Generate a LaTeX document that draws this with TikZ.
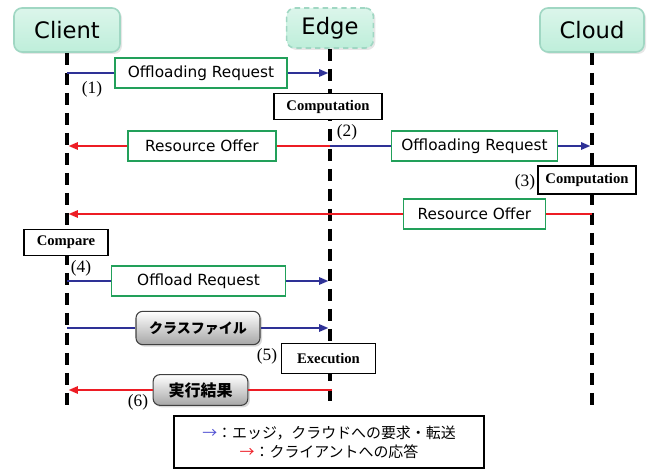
\documentclass[tikz,border=0pt]{standalone}
\usepackage{fontspec}
\setmainfont{Liberation Serif}
\setsansfont{DejaVu Sans}
\newfontfamily\jpfont{Noto Sans CJK JP}
\usetikzlibrary{arrows.meta,shadows}

\definecolor{reqblue}{RGB}{46,49,150}
\definecolor{legblue}{RGB}{80,80,210}
\definecolor{resred}{RGB}{237,28,36}
\definecolor{boxgreen}{RGB}{34,160,90}
\definecolor{mintfill}{RGB}{190,238,218}
\definecolor{mintline}{RGB}{160,215,195}

\tikzset{
  host/.style={rounded corners=6pt, draw=mintline, line width=1.2pt,
    top color=mintfill!55, bottom color=mintfill,
    font=\sffamily\fontsize{17}{17}\selectfont,
    drop shadow={opacity=0.2, shadow xshift=1.5pt, shadow yshift=-1.5pt}},
  lifeline/.style={line width=2.7pt, dash pattern=on 9.5pt off 5.5pt},
  msg/.style={draw=boxgreen, line width=0.9pt, fill=white, inner sep=0pt,
    minimum height=22.5pt, font=\sffamily\fontsize{11.5}{12}\selectfont},
  proc/.style={draw, line width=0.8pt, fill=white, inner sep=0pt,
    font=\bfseries\fontsize{11}{11}\selectfont},
  file/.style={draw=black!75, line width=0.8pt, rounded corners=5pt, inner sep=0pt,
    top color=white, bottom color=black!35,
    drop shadow={opacity=0.3, shadow xshift=1.5pt, shadow yshift=-1.5pt}},
  reqline/.style={reqblue, line width=1.5pt},
  resline/.style={resred, line width=1.5pt},
  req/.style={reqline, -{Triangle[length=7pt,width=5.5pt]}, shorten >=1.2pt},
  res/.style={resline, -{Triangle[length=7pt,width=5.5pt]}, shorten >=1.2pt},
  num/.style={font=\fontsize{13}{13}\selectfont, inner sep=0pt}
}

\begin{document}
\begin{tikzpicture}[x=0.75pt,y=-0.75pt]
  \useasboundingbox (0,0) rectangle (653,470);

  % hosts and their lifelines
  \node[host, minimum width=79.5pt, minimum height=33pt] (client) at (67,30) {Client};
  \node[host, dash pattern=on 4pt off 3pt, minimum width=65pt, minimum height=30pt] (edge) at (330,28) {Edge};
  \node[host, minimum width=78pt, minimum height=33pt] (cloud) at (592,30) {Cloud};
  \coordinate (client end) at (67,405);
  \coordinate (edge end) at (330,405);
  \coordinate (cloud end) at (592,405);
  \draw[lifeline] (client.south) -- (client end);
  \draw[lifeline] (edge.south) -- (edge end);
  \draw[lifeline] (cloud.south) -- (cloud end);

  % (1) client -> edge
  \coordinate (c1) at (67,73);
  \coordinate (e1) at (330,73);
  \node[msg, minimum width=129pt] (m1) at (201,73) {Offloading Request};
  \draw[reqline] (c1) -- (m1.west);
  \draw[req] (m1.east) -- (e1);
  \node[num] (n1) at (92,89) {(1)};

  \node[proc, minimum width=81pt, minimum height=20pt] (comp1) at (328,106.5) {Computation};

  % (2) edge -> client, edge -> cloud
  \coordinate (c2) at (67,146);
  \coordinate (e2) at (330,146);
  \coordinate (k2) at (592,146);
  \node[msg, minimum width=111pt] (m2) at (202,146) {Resource Offer};
  \draw[resline] (e2) -- (m2.east);
  \draw[res] (m2.west) -- (c2);
  \node[msg, minimum width=125pt] (m3) at (474.5,146) {Offloading Request};
  \draw[reqline] (e2) -- (m3.west);
  \draw[req] (m3.east) -- (k2);
  \node[num] (n2) at (347,132) {(2)};

  % (3) cloud -> client
  \node[proc, minimum width=73.5pt, minimum height=21pt] (comp2) at (587,180) {Computation};
  \node[num] (n3) at (525,182) {(3)};
  \coordinate (c3) at (67,214);
  \coordinate (k3) at (592,214);
  \node[msg, minimum width=107pt] (m4) at (474.5,214) {Resource Offer};
  \draw[resline] (k3) -- (m4.east);
  \draw[res] (m4.west) -- (c3);

  % (4) client -> edge
  \node[proc, minimum width=63pt, minimum height=20pt] (cmp) at (66,242.5) {Compare};
  \node[num] (n4) at (81,268) {(4)};
  \coordinate (c4) at (67,281);
  \coordinate (e4) at (330,281);
  \node[msg, minimum width=130pt] (m5) at (198.5,281) {Offload Request};
  \draw[reqline] (c4) -- (m5.west);
  \draw[req] (m5.east) -- (e4);

  \coordinate (c5) at (67,328);
  \coordinate (e5) at (330,328);
  \node[file, minimum width=93pt, minimum height=25pt,
    font=\jpfont\bfseries\fontsize{10.5}{10.5}\selectfont] (f1) at (198,328) {クラスファイル};
  \draw[reqline] (c5) -- (f1.west);
  \draw[req] (f1.east) -- (e5);

  % (5), (6) execution and result
  \node[num] (n5) at (267,356) {(5)};
  \node[proc, minimum width=71pt, minimum height=22pt] (exec) at (328.5,358.5) {Execution};
  \coordinate (c6) at (67,390);
  \coordinate (e6) at (332,390);
  \node[file, minimum width=71pt, minimum height=23pt,
    font=\jpfont\bfseries\fontsize{12}{12}\selectfont] (f2) at (200.5,390) {実行結果};
  \draw[resline] (e6) -- (f2.east);
  \draw[res] (f2.west) -- (c6);
  \node[num] (n6) at (138,402) {(6)};

  % legend
  \node[draw, line width=0.9pt, minimum width=232.5pt, minimum height=39pt, align=center,
    font=\jpfont\fontsize{11.2}{14.5}\selectfont] (legend) at (329,442)
    {\textcolor{legblue}{→}：エッジ，クラウドへの要求・転送\\
     \textcolor{resred}{→}：クライアントへの応答};
\end{tikzpicture}
\end{document}
